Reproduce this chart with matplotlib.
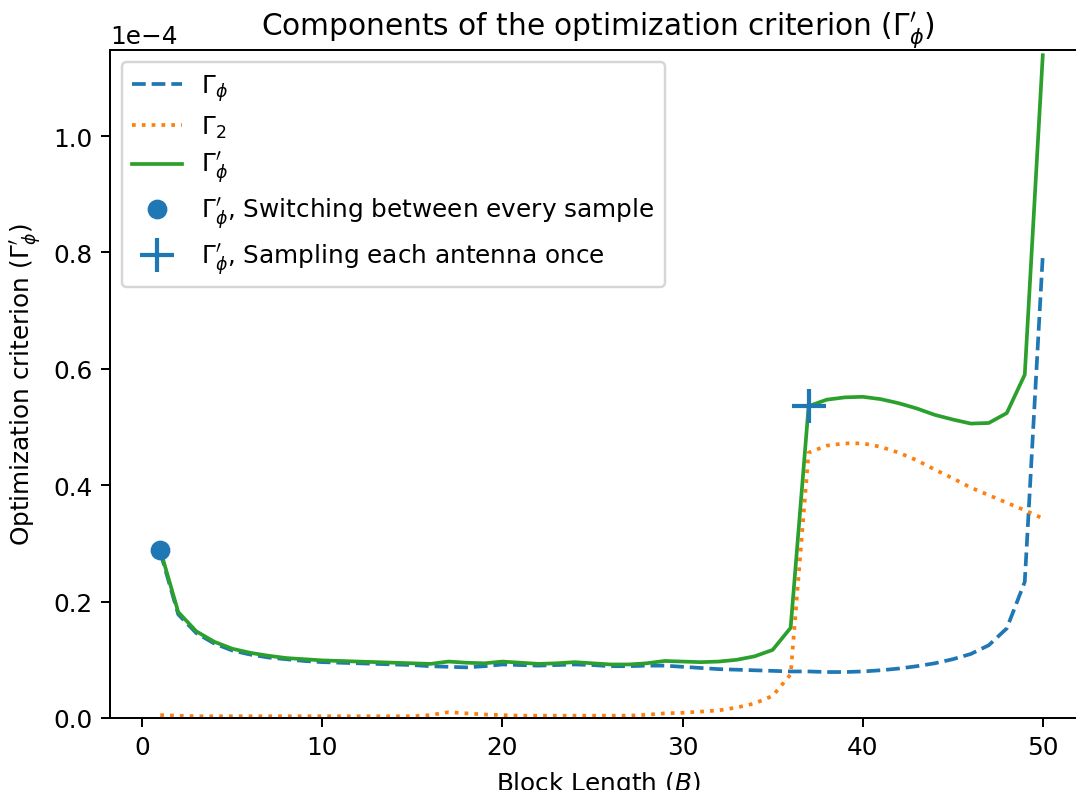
import numpy as np
import matplotlib
matplotlib.use("Agg")
import matplotlib.pyplot as plt

block_length = np.arange(1, 51)

gamma_phi = [0.285, 0.178, 0.146, 0.128, 0.116, 0.109, 0.104, 0.101, 0.098, 0.096,
             0.095, 0.094, 0.093, 0.092, 0.091, 0.089, 0.088, 0.087, 0.089, 0.092,
             0.091, 0.090, 0.091, 0.092, 0.091, 0.089, 0.089, 0.090, 0.090, 0.088,
             0.086, 0.084, 0.083, 0.082, 0.081, 0.080, 0.080, 0.079, 0.079, 0.080,
             0.082, 0.085, 0.089, 0.094, 0.101, 0.110, 0.125, 0.154, 0.234, 0.795]

gamma_2 = [0.005, 0.004, 0.003, 0.003, 0.003, 0.003, 0.003, 0.003, 0.003, 0.003,
           0.003, 0.003, 0.003, 0.003, 0.003, 0.005, 0.010, 0.008, 0.006, 0.005,
           0.004, 0.004, 0.004, 0.004, 0.004, 0.004, 0.004, 0.0055, 0.008, 0.009,
           0.011, 0.013, 0.018, 0.025, 0.038, 0.075, 0.456, 0.468, 0.472, 0.472,
           0.466, 0.456, 0.443, 0.427, 0.412, 0.396, 0.383, 0.370, 0.357, 0.343]

gamma_phi_prime = [0.289, 0.182, 0.149, 0.131, 0.119, 0.112, 0.107, 0.103, 0.101, 0.099,
                   0.098, 0.097, 0.096, 0.095, 0.094, 0.093, 0.097, 0.095, 0.094, 0.097,
                   0.095, 0.093, 0.094, 0.096, 0.094, 0.092, 0.092, 0.094, 0.098, 0.097,
                   0.096, 0.097, 0.100, 0.106, 0.117, 0.155, 0.536, 0.547, 0.551, 0.552,
                   0.548, 0.541, 0.532, 0.521, 0.513, 0.506, 0.507, 0.524, 0.590, 1.139]

switch_every_B = [1]
switch_every_val = [0.289]
sample_once_B = [37]
sample_once_val = [0.536]

scale = 1e-4
GP = r"\Gamma_\phi'"

dpi = 178
fig = plt.figure(figsize=(1076 / dpi, 791 / dpi), dpi=dpi)
ax = fig.add_axes([110 / 1076, 1 - 719 / 791, (1086 - 110) / 1076, (719 - 51) / 791])

ax.plot(block_length, np.array(gamma_phi) * scale, '--', color='C0', label=r'$\Gamma_\phi$')
ax.plot(block_length, np.array(gamma_2) * scale, ':', color='C1', label=r'$\Gamma_2$')
ax.plot(block_length, np.array(gamma_phi_prime) * scale, '-', color='C2', label=f"${GP}$")
ax.plot(switch_every_B, np.array(switch_every_val) * scale, 'o', markersize=7, color='C0',
        zorder=3, label=f"${GP}$, Switching between every sample")
ax.plot(sample_once_B, np.array(sample_once_val) * scale, '+', markersize=14, mew=1.7,
        color='C0', zorder=3, label=f"${GP}$, Sampling each antenna once")

ax.set_xlim(-1.79, 52.4)
ax.set_ylim(0, 1.148e-4)
ax.ticklabel_format(axis='y', style='sci', scilimits=(0, 0))
ax.set_title(f"Components of the optimization criterion (${GP}$)", fontsize=12)
ax.set_xlabel(r"Block Length ($B$)")
ax.set_ylabel(f"Optimization criterion (${GP}$)")
ax.legend(loc='upper left', numpoints=1, labelspacing=0.42)

fig.savefig("out.png", dpi=dpi)
